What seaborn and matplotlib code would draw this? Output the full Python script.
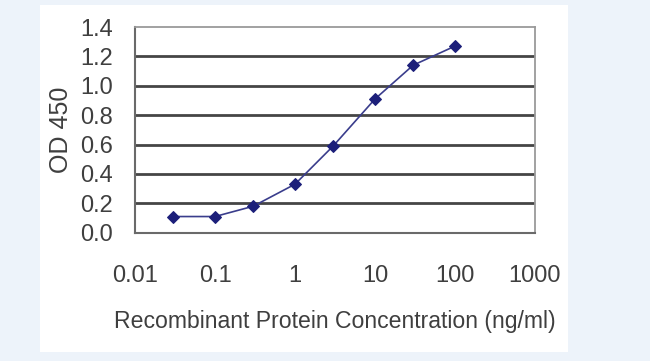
import matplotlib
matplotlib.use('Agg')
import matplotlib.pyplot as plt
from matplotlib.patches import Rectangle
import pandas as pd
import seaborn as sns

# Values
concentration = [0.03, 0.1, 0.3, 1, 3, 10, 30, 100]
od450 = [0.11, 0.11, 0.18, 0.33, 0.59, 0.91, 1.14, 1.27]
x_ticks = [0.01, 0.1, 1, 10, 100, 1000]
x_tick_labels = ['0.01', '0.1', '1', '10', '100', '1000']
y_ticks = [0.0, 0.2, 0.4, 0.6, 0.8, 1.0, 1.2, 1.4]

df = pd.DataFrame({'conc': concentration, 'od': od450})

sns.set_style('white')
plt.rcParams['font.family'] = ['Liberation Sans', 'DejaVu Sans']
text_color = '#3f3f3f'

fig = plt.figure(figsize=(6.5, 3.61), dpi=100)
fig.patch.set_facecolor('#edf3fa')
panel = Rectangle((40 / 650, 1 - 352 / 361), 528 / 650, 347 / 361,
                  transform=fig.transFigure, facecolor='white',
                  edgecolor='none', zorder=-5)
fig.add_artist(panel)

ax = fig.add_axes([135 / 650, 1 - 232.7 / 361, 400 / 650, 205.7 / 361])
ax.set_facecolor('white')

sns.lineplot(data=df, x='conc', y='od', ax=ax, color='#3a3d8c', lw=1.2,
             marker='D', markersize=6, markerfacecolor='#1c1f7a',
             markeredgecolor='#1c1f7a', zorder=3)

ax.set_xscale('log')
ax.set_xlim(0.01, 1000)
ax.set_ylim(0, 1.4)
ax.set_xticks(x_ticks)
ax.set_xticklabels(x_tick_labels)
ax.minorticks_off()
ax.set_yticks(y_ticks)
ax.set_yticklabels([f'{v:.1f}' for v in y_ticks])

for v in y_ticks[1:-1]:
    ax.axhline(v, color='#454545', lw=2, zorder=1)

for s in ['left', 'bottom']:
    ax.spines[s].set_color('#6a6a6a')
    ax.spines[s].set_linewidth(1.5)
for s in ['top', 'right']:
    ax.spines[s].set_color('#9a9a9a')
    ax.spines[s].set_linewidth(1.3)

ax.tick_params(axis='y', length=0, pad=16, labelsize=17, labelcolor=text_color)
ax.tick_params(axis='x', length=4, width=1, color='#6a6a6a', direction='out',
               pad=19, labelsize=17, labelcolor=text_color)

ax.set_xlabel('Recombinant Protein Concentration (ng/ml)', fontsize=16.6,
              color=text_color, labelpad=17)
ax.set_ylabel('OD 450', fontsize=18, color=text_color, labelpad=5)

fig.savefig('out.png', dpi=100, facecolor=fig.get_facecolor())
